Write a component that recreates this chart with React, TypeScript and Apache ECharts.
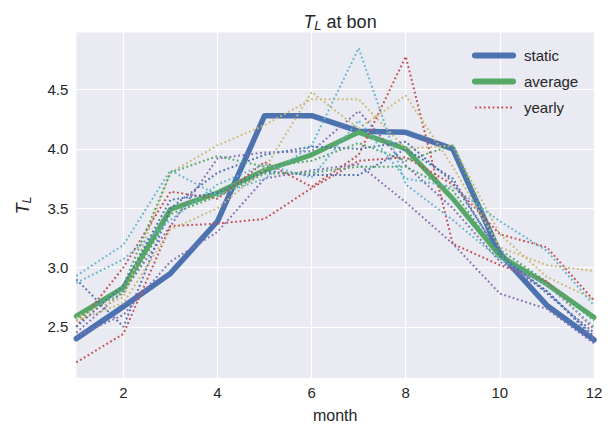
import React, { useEffect, useRef } from "react";
import * as echarts from "echarts";

// ---- data ----
const months = [1, 2, 3, 4, 5, 6, 7, 8, 9, 10, 11, 12];
const xTickValues = [2, 4, 6, 8, 10, 12];
const yTickValues = [2.5, 3.0, 3.5, 4.0, 4.5];

const staticTL = [2.4, 2.67, 2.95, 3.39, 4.28, 4.28, 4.15, 4.14, 4.0, 3.12, 2.68, 2.39];
const averageTL = [2.59, 2.83, 3.49, 3.63, 3.82, 3.95, 4.14, 4.0, 3.58, 3.1, 2.86, 2.58];

const yearlyRedA = [2.5, 3.0, 3.64, 3.58, 3.89, 3.68, 3.95, 4.78, 3.2, 3.02, 2.88, 2.48];
const yearlyPurpleA = [2.45, 2.8, 3.35, 3.92, 3.97, 3.98, 4.32, 3.86, 3.5, 3.05, 2.8, 2.4];
const yearlyYellowA = [2.58, 2.75, 3.8, 4.03, 4.2, 4.42, 4.42, 4.0, 4.03, 3.28, 2.92, 2.73];
const yearlyCyanA = [2.93, 3.19, 3.82, 3.61, 3.75, 4.03, 4.85, 3.7, 3.4, 3.07, 2.85, 2.5];
const yearlyBlueA = [2.9, 2.5, 3.5, 3.8, 3.95, 4.02, 4.0, 4.06, 3.72, 3.12, 2.78, 2.45];
const yearlyGreenA = [2.55, 2.85, 3.8, 3.94, 3.85, 3.9, 4.05, 3.9, 4.03, 3.15, 2.88, 2.55];
const yearlyRedB = [2.2, 2.44, 3.35, 3.37, 3.41, 3.67, 3.9, 3.93, 3.7, 3.28, 3.17, 2.72];
const yearlyPurpleB = [2.42, 2.6, 3.05, 3.3, 3.75, 3.82, 3.87, 3.55, 3.2, 2.78, 2.65, 2.36];
const yearlyYellowB = [2.55, 2.7, 3.32, 3.5, 3.83, 4.48, 4.17, 4.45, 3.85, 3.17, 3.02, 2.97];
const yearlyCyanB = [2.87, 3.07, 3.4, 3.7, 3.87, 3.76, 4.24, 3.75, 3.68, 3.39, 3.14, 2.68];
const yearlyBlueB = [2.5, 2.85, 3.57, 3.63, 3.81, 3.78, 3.78, 4.0, 3.75, 3.1, 2.8, 2.42];
const yearlyGreenB = [2.6, 2.78, 3.45, 3.6, 3.79, 3.8, 3.85, 3.85, 3.65, 3.1, 2.85, 2.58];

const yearly = [
  yearlyRedA, yearlyPurpleA, yearlyYellowA, yearlyCyanA, yearlyBlueA, yearlyGreenA,
  yearlyRedB, yearlyPurpleB, yearlyYellowB, yearlyCyanB, yearlyBlueB, yearlyGreenB,
];

// ---- styles ----
const C = {
  blue: "#4C72B0",
  green: "#55A868",
  red: "#C44E52",
  purple: "#8172B2",
  yellow: "#CCB974",
  cyan: "#64B5CD",
};
const yearlyColors = [C.red, C.purple, C.yellow, C.cyan, C.blue, C.green];
const FONT = "'Liberation Sans', Arial, sans-serif";
const TXT = "#262626";

const toPts = (vals: number[]) => months.map((m, i) => [m, vals[i]]);

const mathRich = (size: number) => ({
  t: { fontFamily: FONT, fontSize: size, fontStyle: "italic", color: TXT },
  s: {
    fontFamily: FONT,
    fontSize: Math.round(size * 0.7),
    fontStyle: "italic",
    color: TXT,
    verticalAlign: "bottom",
    padding: [8, 0, 0, 0],
  },
  n: { fontFamily: FONT, fontSize: size, color: TXT },
});

export default function App() {
  const ref = useRef<HTMLDivElement>(null);
  useEffect(() => {
    const chart = echarts.init(ref.current!, null, { renderer: "svg" });
    const series: any[] = [
      {
        type: "line",
        name: "static",
        data: toPts(staticTL),
        symbol: "none",
        lineStyle: { color: C.blue, width: 5.5, cap: "round", join: "round" },
        itemStyle: { color: C.blue },
      },
      {
        type: "line",
        name: "average",
        data: toPts(averageTL),
        symbol: "none",
        lineStyle: { color: C.green, width: 5, cap: "round", join: "round" },
        itemStyle: { color: C.green },
      },
      ...yearly.map((vals, k) => ({
        type: "line",
        name: "yearly",
        data: toPts(vals),
        symbol: "none",
        lineStyle: {
          color: yearlyColors[k % yearlyColors.length],
          width: 2,
          type: [1.8, 2.6],
          cap: "butt",
        },
        itemStyle: { color: yearlyColors[k % yearlyColors.length] },
      })),
    ];

    chart.setOption({
      animation: false,
      backgroundColor: "#ffffff",
      textStyle: { fontFamily: FONT },
      title: {
        text: "{t|T}{s|L}{n| at bon}",
        left: 335,
        top: 6,
        textAlign: "center",
        textStyle: {
          fontFamily: FONT,
          color: TXT,
          fontSize: 18,
          fontWeight: "normal",
          rich: mathRich(18),
        },
      },
      legend: {
        orient: "vertical",
        left: 467,
        top: 43,
        itemWidth: 38,
        itemHeight: 14,
        itemGap: 11,
        itemStyle: { opacity: 0 },
        textStyle: { fontFamily: FONT, fontSize: 15, color: TXT, padding: [0, 0, 0, 6] },
        data: [
          { name: "static", lineStyle: { width: 6, cap: "round" } },
          { name: "average", lineStyle: { width: 6, cap: "round" } },
          { name: "yearly", lineStyle: { width: 2, type: [1.8, 2.6] } },
        ],
      },
      grid: {
        left: 76.3,
        right: 21,
        top: 32.5,
        bottom: 46,
        show: true,
        backgroundColor: "#EAEAF2",
        borderWidth: 0,
      },
      xAxis: {
        type: "value",
        min: 1,
        max: 12,
        name: "month",
        nameLocation: "middle",
        nameGap: 29,
        nameTextStyle: { fontFamily: FONT, fontSize: 16, color: TXT },
        axisLine: { show: false },
        axisTick: { show: false, customValues: xTickValues },
        axisLabel: {
          customValues: xTickValues,
          fontFamily: FONT,
          fontSize: 15,
          color: TXT,
          margin: 7,
        },
        splitLine: { show: true, lineStyle: { color: "#ffffff", width: 1.2 } },
      },
      yAxis: {
        type: "value",
        min: 2.068,
        max: 4.982,
        name: "{t|T}{s|L}",
        nameLocation: "middle",
        nameGap: 43,
        nameRotate: 90,
        nameTextStyle: {
          fontFamily: FONT,
          color: TXT,
          fontSize: 18,
          rich: mathRich(18),
        },
        axisLine: { show: false },
        axisTick: { show: false, customValues: yTickValues },
        axisLabel: {
          customValues: yTickValues,
          fontFamily: FONT,
          fontSize: 15,
          color: TXT,
          margin: 8,
          formatter: (v: number) => v.toFixed(1),
        },
        splitLine: { show: true, lineStyle: { color: "#ffffff", width: 1.2 } },
      },
      series,
    });
    return () => chart.dispose();
  }, []);
  return (
    <div
      ref={ref}
      style={{ position: "fixed", left: 0, top: 0, width: 615, height: 428, background: "#fff" }}
    />
  );
}
